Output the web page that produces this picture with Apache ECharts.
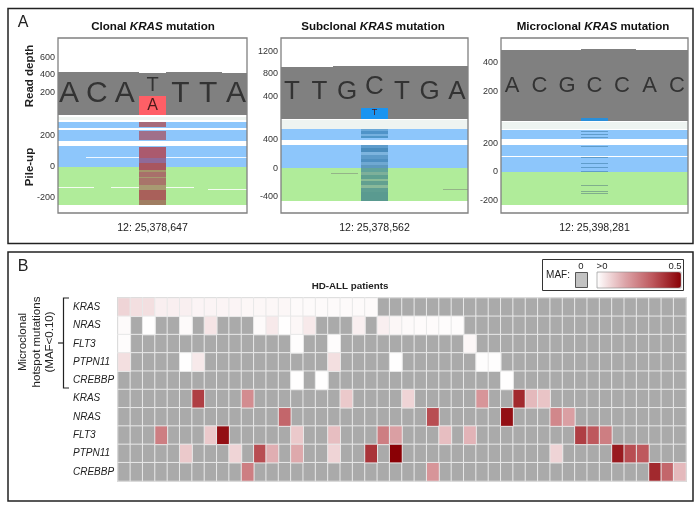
<!DOCTYPE html>
<html><head><meta charset="utf-8">
<style>html,body{margin:0;padding:0;background:#fff}#c{width:700px;height:508px}</style>
<script src="https://cdn.jsdelivr.net/npm/echarts@6/dist/echarts.min.js"></script>
</head><body><div id="c"></div>
<script>
// ---------- Panel A data ----------
const titles = ['Clonal', 'Subclonal', 'Microclonal'];
const loci = ['12: 25,378,647', '12: 25,378,562', '12: 25,398,281'];
const depthTicks = [[200, 400, 600], [400, 800, 1200], [200, 400]];
const pileTicks = [[-200, 0, 200], [-400, 0, 400], [-200, 0, 200]];

const basesClonal = ['A', 'C', 'A', 'T', 'T', 'T', 'A'];
const basesSubclonal = ['T', 'T', 'G', 'C', 'T', 'G', 'A'];
const basesMicroclonal = ['A', 'C', 'G', 'C', 'C', 'A', 'C'];
const altClonal = 'A';
const altSubclonal = 'T';

const depthClonal = [432, 432, 430, 424, 430, 430, 424];
const depthSubclonal = [925, 930, 935, 940, 945, 950, 950];
const depthMicroclonal = [485, 487, 485, 490, 492, 485, 485];
const altDepth = [153, 195, 20];

const letterHeights = [176, 480, 240];
const refLetterHeights = [282, 570, 240];
const altLetterHeights = [35, 107, null];

const paleReads = [[320, 301], [680, 555], [349, 300]];
const forwardClonal = [[288, 250], [237, 166], [133, 0]];
const forwardSubclonal = [[555, 407], [330, 0]];
const forwardMicroclonal = [[293, 229], [187, 110], [100, 0]];
const reverseReads = [[0, -248], [0, -463], [0, -234]];

const stripesClonal = [[288,256],[232,172],[129,56],[56,24],[24,-21],[-21,-36],[-36,-64],[-64,-74],[-74,-118],[-118,-150],[-150,-215],[-215,-248]];
const stripesSubclonal = [[554,526],[526,484],[484,463],[463,428],[330,288],[288,232],[232,189],[189,133],[133,91],[91,49],[49,0],[0,-49],[-49,-91],[-91,-147],[-147,-175],[-175,-232],[-232,-274],[-274,-330],[-330,-456]];
const stripesMicroclonal = [[285,278],[267,260],[246,239],[180,173],[100,93],[58,51],[30,23],[4,-3],[-94,-101],[-136,-143],[-153,-160]];

const stripeColorsClonal = ['#a7697a','#a0708a','#ab5a6e','#8f6a98','#a8565f','#a5956a','#a8706a','#a59a70','#a8746a','#a89a72','#a9605a','#a07e62'];
const stripeColorsSubclonal = ['#6aa8d8','#4f93c8','#75b0df','#5096c8','#5e9ccc','#4a8cbc','#7db4de','#5d9bc9','#4f90c0','#6fa8d2','#5d98bf','#62a39a','#7db09a','#5fa090','#8abb98','#62a090','#8ab99a','#5f9e92','#5a9a90'];
const stripeColorsMicroclonal = ['#5f9ccb','#5f9ccb','#5f9ccb','#5f9ccb','#5f9ccb','#5f9ccb','#5f9ccb','#5f9ccb','#7fae8c','#7fae8c','#7fae8c'];

// thin streaks: [from position, to position, read value]
const streaksWhite = [[[0.6, 6.4, 56], [-0.4, 0.9, -137], [1.5, 4.5, -137], [5.0, 6.4, -150]], [], [[-0.4, 6.4, 105]]];
const streaksDark = [[], [[1.4, 2.4, -75], [5.5, 6.4, -290]], []];

// ---------- Panel B data ----------
const genes = ['KRAS', 'NRAS', 'FLT3', 'PTPN11', 'CREBBP', 'KRAS', 'NRAS', 'FLT3', 'PTPN11', 'CREBBP'];
const mafMicroKRAS   = [.08,.06,.06,.03,.03,.03,.02,.02,.02,.02, .015,.015,.015,.015,.01,.01,.01,.01,.01,.01, .01,0,0,0,0,0,0,0,0,0, 0,0,0,0,0,0,0,0,0,0, 0,0,0,0,0,0];
const mafMicroNRAS   = [.01,0,.002,0,0,.01,0,.05,0,0, 0,.01,.04,.002,.015,.04,0,0,0,.03, 0,.03,.015,.01,.007,.007,.005,.005,0,0, 0,0,0,0,0,0,0,0,0,0, 0,0,0,0,0,0];
const mafMicroFLT3   = [.005,0,0,0,0,0,0,0,0,0, 0,0,0,0,.003,0,0,.005,0,0, 0,0,0,0,0,0,0,0,.015,0, 0,0,0,0,0,0,0,0,0,0, 0,0,0,0,0,0];
const mafMicroPTPN11 = [.06,0,0,0,0,.002,.04,0,0,0, 0,0,0,0,0,0,0,.06,0,0, 0,0,.002,0,0,0,0,0,0,.003, .003,0,0,0,0,0,0,0,0,0, 0,0,0,0,0,0];
const mafMicroCREBBP = [0,0,0,0,0,0,0,0,0,0, 0,0,0,0,.002,0,.001,0,0,0, 0,0,0,0,0,0,0,0,0,0, 0,.001,0,0,0,0,0,0,0,0, 0,0,0,0,0,0];
const mafKRAS        = [0,0,0,0,0,0,.38,0,0,0, .22,0,0,0,0,0,0,0,.1,0, 0,0,0,.08,0,0,0,0,0,.2, 0,0,.42,.13,.11,0,0,0,0,0, 0,0,0,0,0,0];
const mafNRAS        = [0,0,0,0,0,0,0,0,0,0, 0,0,0,.3,0,0,0,0,0,0, 0,0,0,0,0,.35,0,0,0,0, 0,.47,0,0,0,.23,.18,0,0,0, 0,0,0,0,0,0];
const mafFLT3        = [0,0,0,.25,0,0,0,.1,.47,0, 0,0,0,0,.1,0,0,.12,0,0, 0,.25,.18,0,0,0,.12,0,.14,0, 0,0,0,0,0,0,0,.38,.33,.25, 0,0,0,0,0,0];
const mafPTPN11      = [0,0,0,0,0,.1,0,0,0,.08, 0,.35,.15,0,.16,0,0,.08,0,0, .4,0,.5,0,0,0,0,0,0,0, 0,0,0,0,0,.08,0,0,0,0, .45,.35,.33,0,0,0];
const mafCREBBP      = [0,0,0,0,0,0,0,0,0,0, .25,0,0,0,0,0,0,0,0,0, 0,0,0,0,0,.2,0,0,0,0, 0,0,0,0,0,0,0,0,0,0, 0,0,0,.42,.3,.13];
const mafRows = [mafMicroKRAS, mafMicroNRAS, mafMicroFLT3, mafMicroPTPN11, mafMicroCREBBP, mafKRAS, mafNRAS, mafFLT3, mafPTPN11, mafCREBBP];

// ---------- Assembly ----------
const FONT = '"Liberation Sans", Arial, sans-serif';
const XMIN = -0.4, XMAX = 6.4;
const panels = [
  { left: 58,  width: 189, depthMin: -70, depthMax: 835,  pileMin: -299, pileMax: 333, split: 115, bases: basesClonal,      depth: depthClonal,      alt: altClonal,    altColor: '#ff5f66', forward: forwardClonal,      stripes: stripesClonal,      stripeColors: stripeColorsClonal,      font: 30, refFont: 20, altFont: 16 },
  { left: 281, width: 187, depthMin: 0,   depthMax: 1440, pileMin: -625, pileMax: 695, split: 119, bases: basesSubclonal,   depth: depthSubclonal,   alt: altSubclonal, altColor: '#1a94f0', forward: forwardSubclonal,   stripes: stripesSubclonal,   stripeColors: stripeColorsSubclonal,   font: 26, refFont: 26, altFont: 9 },
  { left: 501, width: 187, depthMin: 0,   depthMax: 566,  pileMin: -290, pileMax: 356, split: 121, bases: basesMicroclonal, depth: depthMicroclonal, alt: null,         altColor: '#2a8ed8', forward: forwardMicroclonal, stripes: stripesMicroclonal, stripeColors: stripeColorsMicroclonal, font: 22, refFont: 22, altFont: 9 }
];

const grid = [], xAxis = [], yAxis = [], series = [], title = [];

function rectSeries(axis, rows, colorOf) {
  series.push({
    type: 'custom', xAxisIndex: axis, yAxisIndex: axis, clip: true, silent: true, animation: false,
    encode: { x: [0, 1], y: [2, 3] },
    data: rows,
    renderItem(params, api) {
      const a = api.coord([api.value(0), api.value(2)]);
      const b = api.coord([api.value(1), api.value(3)]);
      const x0 = Math.round(a[0]), y0 = Math.round(a[1]);
      const w = Math.max(1, Math.round(b[0]) - x0), h = Math.max(1, Math.round(b[1]) - y0);
      return { type: 'rect', shape: { x: x0, y: y0, width: w, height: h },
               style: { fill: colorOf(params.dataIndex) } };
    }
  });
}
function letterSeries(axis, rows, fontSize, color) {
  series.push({
    type: 'custom', xAxisIndex: axis, yAxisIndex: axis, clip: false, silent: true, animation: false,
    encode: { x: 0, y: 1 },
    data: rows.map(r => [r[0], r[1]]),
    renderItem(params, api) {
      const p = api.coord([api.value(0), api.value(1)]);
      return { type: 'text', x: p[0], y: p[1],
               style: { text: rows[params.dataIndex][2], fontSize, fontFamily: FONT, fill: color, align: 'center', verticalAlign: 'middle' } };
    }
  });
}
function hiddenX(idx, left, width, top, height, extra) {
  grid.push({ left, width, top, height, show: false });
  xAxis.push(Object.assign({ type: 'value', gridIndex: idx, min: XMIN, max: XMAX, show: true,
    splitLine: { show: false }, axisLine: { show: false }, axisTick: { show: false }, axisLabel: { show: false } }, extra || {}));
}
function labelY(idx, min, max, ticks) {
  yAxis.push({ type: 'value', gridIndex: idx, min, max, splitLine: { show: false }, axisLine: { show: false }, axisTick: { show: false },
    axisLabel: { customValues: ticks, formatter: v => String(v), margin: 3, fontSize: 9, color: '#333', fontFamily: FONT } });
}

panels.forEach((p, k) => {
  const dIdx = k * 2, uIdx = k * 2 + 1;
  // read depth
  hiddenX(dIdx, p.left, p.width, 38, p.split - 38);
  labelY(dIdx, p.depthMin, p.depthMax, depthTicks[k]);
  // pile-up
  hiddenX(uIdx, p.left, p.width, p.split, 213 - p.split, {
    axisTick: { show: true, customValues: [3], length: 4, lineStyle: { color: '#333' } },
    axisLabel: { show: true, customValues: [3], formatter: () => loci[k], margin: 10, fontSize: 10.6, color: '#222', fontFamily: FONT }
  });
  labelY(uIdx, p.pileMin, p.pileMax, pileTicks[k]);

  rectSeries(dIdx, p.depth.map((v, i) => [i - 0.5, i + 0.5, v, p.depthMin]), () => '#808080');
  rectSeries(dIdx, [[2.5, 3.5, altDepth[k], p.depthMin]], () => p.altColor);
  letterSeries(dIdx, p.bases.map((b, i) => [i, letterHeights[k], b]).filter(r => r[0] !== 3), p.font, '#333');
  letterSeries(dIdx, [[3, refLetterHeights[k], p.bases[3]]], p.refFont, '#333');
  if (p.alt) letterSeries(dIdx, [[3, altLetterHeights[k], p.alt]], p.altFont, '#4a1a1a');

  rectSeries(uIdx, [[XMIN, XMAX, paleReads[k][0], paleReads[k][1]]], () => '#eef4f1');
  rectSeries(uIdx, p.forward.map(r => [XMIN, XMAX, r[0], r[1]]), () => '#8dc6fb');
  rectSeries(uIdx, [[XMIN, XMAX, reverseReads[k][0], reverseReads[k][1]]], () => '#b0ec9a');
  const step = (p.pileMax - p.pileMin) / (213 - p.split) * 0.5;
  rectSeries(uIdx, streaksWhite[k].map(r => [r[0], r[1], r[2] + step, r[2] - step]), () => 'rgba(255,255,255,0.85)');
  rectSeries(uIdx, streaksDark[k].map(r => [r[0], r[1], r[2] + step, r[2] - step]), () => '#94b488');
  rectSeries(uIdx, p.stripes.map(r => [2.5, 3.5, r[0], r[1]]), i => p.stripeColors[i]);

  const cx = [153, 373, 593][k];
  title.push({
    text: '{b|' + titles[k] + ' }{i|KRAS}{b| mutation}', left: cx, top: 21, padding: 0, textAlign: 'center',
    textStyle: { rich: {
      b: { fontFamily: FONT, fontWeight: 'bold', fontSize: 11.6, color: '#111' },
      i: { fontFamily: FONT, fontWeight: 'bold', fontStyle: 'italic', fontSize: 11.6, color: '#111' } } }
  });
});

// Heatmap: zero-MAF cells in fixed grey, non-zero cells coloured by the visual map
const hIdx = grid.length;
grid.push({ left: 118, width: 568, top: 298, height: 183, show: true, borderColor: '#666', borderWidth: 1.2, backgroundColor: '#aaa' });
xAxis.push({ type: 'category', gridIndex: hIdx, data: mafRows[0].map((_, i) => i), show: false });
yAxis.push({ type: 'category', gridIndex: hIdx, inverse: true, data: genes,
  axisLine: { show: false }, axisTick: { show: false }, splitLine: { show: false },
  axisLabel: { interval: 0, align: 'left', margin: 45, fontSize: 10, fontStyle: 'italic', color: '#222', fontFamily: FONT } });
const zeroCells = [], mafCells = [];
mafRows.forEach((row, y) => row.forEach((v, x) => (v > 0 ? mafCells : zeroCells).push([x, y, v])));
series.push({ type: 'heatmap', xAxisIndex: hIdx, yAxisIndex: hIdx, data: zeroCells, silent: true, animation: false,
  itemStyle: { color: '#aaaaaa', borderColor: '#e8e8e8', borderWidth: 1 }, emphasis: { disabled: true } });
series.push({ type: 'heatmap', xAxisIndex: hIdx, yAxisIndex: hIdx, data: mafCells, silent: true, animation: false,
  itemStyle: { borderColor: '#e8e8e8', borderWidth: 1 }, emphasis: { disabled: true } });

// Graphic furniture
function txt(x, y, text, size, opt) {
  return Object.assign({ type: 'text', x, y, z: 50,
    style: Object.assign({ text, fontSize: size, fontFamily: FONT, fill: '#222', align: 'center', verticalAlign: 'middle' }, (opt || {}).style || {}) },
    opt && opt.rotation ? { rotation: opt.rotation } : {});
}
const box = (x, y, w, h, stroke, lw, fill) => ({ type: 'rect', z: 40, shape: { x, y, width: w, height: h },
  style: { fill: fill || 'none', stroke, lineWidth: lw } });
const bold = { style: { fontWeight: 'bold' } };
const UP = Math.PI / 2;
const graphic = [
  box(8, 8.5, 685, 235, '#222', 1.5),
  box(8, 252, 685, 249, '#222', 1.5),
  box(58, 38, 189, 175, '#808080', 1.3),
  box(281, 38, 187, 175, '#808080', 1.3),
  box(501, 38, 187, 175, '#808080', 1.3),
  txt(23, 23, 'A', 16),
  txt(23, 267, 'B', 16),
  txt(29.5, 76, 'Read depth', 11.5, { rotation: UP, style: bold.style }),
  txt(29.5, 167, 'Pile-up', 11.5, { rotation: UP, style: bold.style }),
  txt(23, 342, 'Microclonal', 11.5, { rotation: UP }),
  txt(36.5, 342, 'hotspot mutations', 11.5, { rotation: UP }),
  txt(49.5, 342, '(MAF<0.10)', 11.5, { rotation: UP }),
  { type: 'polyline', z: 40, shape: { points: [[69, 298], [63.5, 298], [63.5, 388], [69, 388]] }, style: { fill: 'none', stroke: '#222', lineWidth: 1.2 } },
  { type: 'line', z: 40, shape: { x1: 58, y1: 343, x2: 63.5, y2: 343 }, style: { stroke: '#222', lineWidth: 1.2 } },
  txt(350, 286, 'HD-ALL patients', 9.8, bold),
  box(542.5, 259.5, 141, 31, '#333', 1),
  txt(558, 275, 'MAF:', 10),
  box(575.5, 272.5, 12, 15, '#555', 1, '#c2c2c2'),
  txt(581, 266, '0', 9.5),
  txt(602, 266, '>0', 9.5),
  txt(675, 266, '0.5', 9.5),
  box(597, 272, 84, 16, '#888', 0.6)
];

const option = {
  animation: false,
  textStyle: { fontFamily: FONT },
  title, grid, xAxis, yAxis, series, graphic,
  visualMap: {
    type: 'continuous', seriesIndex: series.length - 1, dimension: 2, min: 0, max: 0.5,
    orient: 'horizontal', left: 597, top: 272, itemWidth: 16, itemHeight: 84, padding: 0,
    calculable: false, realtime: false, hoverLink: false, show: true, text: null, showLabel: false,
    inRange: { color: ['#ffffff', '#dda5a9', '#bd565b', '#8a0005'] }
  }
};
echarts.init(document.getElementById('c'), null, { renderer: 'canvas' }).setOption(option);
</script></body></html>
